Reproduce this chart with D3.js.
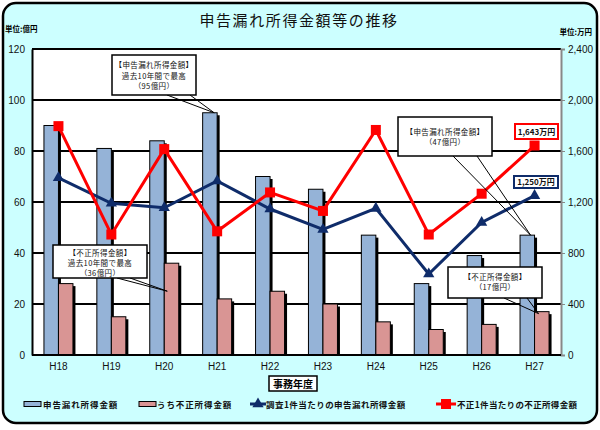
<!DOCTYPE html>
<html><head><meta charset="utf-8">
<script src="https://cdn.jsdelivr.net/npm/d3@7"></script>
<style>body{margin:0;background:#fff}svg{display:block}</style>
</head><body>
<svg id="c" width="600" height="430"></svg>
<script>
const categories = ["H18","H19","H20","H21","H22","H23","H24","H25","H26","H27"];
const shinkokuMore = [90,81,84,95,70,65,47,28,39,47];      // 申告漏れ所得金額 (億円)
const fusei = [28,15,36,22,25,20,13,10,12,17];              // うち不正所得金額 (億円)
const perCase = [1390,1190,1155,1365,1145,985,1150,635,1040,1250]; // 調査1件当たり (万円)
const perFusei = [1795,945,1615,970,1275,1130,1765,945,1265,1643]; // 不正1件当たり (万円)
const leftTicks = [0,20,40,60,80,100,120];
const rightTicks = [0,400,800,1200,1600,2000,2400];
const titleText = "申告漏れ所得金額等の推移";
const legendLabels = ["申告漏れ所得金額","うち不正所得金額","調査1件当たりの申告漏れ所得金額","不正1件当たりの不正所得金額"];

const svg = d3.select("#c");
const JP = "'Noto Sans CJK JP','Noto Sans',sans-serif";
const EN = "'Liberation Sans',Arial,sans-serif";
const NAVY = "#0f2c6a", RED = "#ff0000", BLUE = "#95b3d7", PINK = "#d99594";

const L = 32, R = 561, T = 49, B = 355;
const x = d3.scaleBand().domain(categories).range([L, R]);
const yL = d3.scaleLinear().domain([0, 120]).range([B, T]);
const yR = d3.scaleLinear().domain([0, 2400]).range([B, T]);

// chart background
svg.append("rect").attr("x",3).attr("y",3).attr("width",594).attr("height",420)
  .attr("rx",13).attr("fill","#ccffff").attr("stroke","#000").attr("stroke-width",2.5);

// title
svg.append("text").attr("x",299).attr("y",26).attr("text-anchor","middle")
  .attr("font-family",JP).attr("font-size",15).attr("letter-spacing",1.6).attr("fill","#111")
  .text(titleText);
svg.append("text").attr("x",5).attr("y",32).attr("font-family",JP).attr("font-size",7.5)
  .attr("font-weight","bold").text("単位:億円");
svg.append("text").attr("x",592).attr("y",35).attr("text-anchor","end").attr("font-family",JP)
  .attr("font-size",7.5).attr("font-weight","bold").text("単位:万円");

// plot area
svg.append("rect").attr("x",L).attr("y",T).attr("width",R-L).attr("height",B-T).attr("fill","#fff");
svg.append("g").selectAll("line").data(leftTicks.slice(1)).join("line")
  .attr("x1",L).attr("x2",R).attr("y1",d=>yL(d)).attr("y2",d=>yL(d))
  .attr("stroke","#000").attr("stroke-width",2);

// left axis
const gl = svg.append("g").attr("transform",`translate(${L},0)`)
  .call(d3.axisLeft(yL).tickValues(leftTicks).tickSize(0).tickPadding(7));
gl.select(".domain").attr("stroke","#000").attr("stroke-width",2);
gl.selectAll("text").attr("font-family",EN).attr("font-size",10).attr("fill","#111");

// right axis
const gr = svg.append("g").attr("transform",`translate(${R},0)`)
  .call(d3.axisRight(yR).tickValues(rightTicks).tickSize(4).tickPadding(3).tickFormat(d3.format(",")));
gr.select(".domain").attr("stroke","#888").attr("stroke-width",2);
gr.selectAll("line").attr("stroke","#888");
gr.selectAll("text").attr("font-family",EN).attr("font-size",10).attr("fill","#111");

// bars
const bw = 14.5;
function bars(vals, off, fill){
  const g = svg.append("g");
  g.selectAll(".s").data(vals).join("rect")
    .attr("x",(d,i)=>x(categories[i])+x.bandwidth()/2+off+2.5)
    .attr("y",d=>yL(d)+2.5).attr("width",bw).attr("height",d=>B-yL(d)-2.5).attr("fill","#000");
  g.selectAll(".b").data(vals).join("rect")
    .attr("x",(d,i)=>x(categories[i])+x.bandwidth()/2+off)
    .attr("y",d=>yL(d)).attr("width",bw).attr("height",d=>B-yL(d))
    .attr("fill",fill).attr("stroke","#000").attr("stroke-width",1);
}
bars(shinkokuMore, -bw, BLUE);
bars(fusei, 0, PINK);

// zero baseline
svg.append("line").attr("x1",L).attr("x2",R).attr("y1",B).attr("y2",B).attr("stroke","#000").attr("stroke-width",2);

// x labels
svg.append("g").selectAll("text").data(categories).join("text")
  .attr("x",d=>x(d)+x.bandwidth()/2).attr("y",370).attr("text-anchor","middle")
  .attr("font-family",EN).attr("font-size",10).attr("fill","#111").text(d=>d);

// lines
const cx = (d,i)=>x(categories[i])+x.bandwidth()/2;
const lineGen = d3.line().x(cx).y(d=>yR(d));
svg.append("path").datum(perCase).attr("d",lineGen).attr("fill","none").attr("stroke",NAVY).attr("stroke-width",3);
svg.append("path").datum(perFusei).attr("d",lineGen).attr("fill","none").attr("stroke",RED).attr("stroke-width",3);
const tri = d3.symbol().type(d3.symbolTriangle).size(55);
svg.append("g").selectAll("path").data(perCase).join("path")
  .attr("transform",(d,i)=>`translate(${cx(d,i)},${yR(d)})`).attr("d",tri).attr("fill",NAVY);
svg.append("g").selectAll("rect").data(perFusei).join("rect")
  .attr("x",(d,i)=>cx(d,i)-5).attr("y",d=>yR(d)-5).attr("width",10).attr("height",10).attr("fill",RED);

// callouts
function callout(bx,by,bw2,bh,lines,p1,p2,tip,lineYs){
  const g = svg.append("g");
  g.append("line").attr("x1",p1).attr("y1",by+bh).attr("x2",tip[0]).attr("y2",tip[1]).attr("stroke","#000").attr("stroke-width",1);
  g.append("line").attr("x1",p2).attr("y1",by+bh).attr("x2",tip[0]).attr("y2",tip[1]).attr("stroke","#000").attr("stroke-width",1);
  g.append("rect").attr("x",bx).attr("y",by).attr("width",bw2).attr("height",bh)
    .attr("fill","#fff").attr("stroke","#000").attr("stroke-width",1.5);
  lines.forEach((t,k)=>g.append("text").attr("x",bx+bw2/2).attr("y",lineYs[k]).attr("text-anchor","middle")
    .attr("font-family",JP).attr("font-size",7.5).attr("letter-spacing",0.4).attr("fill","#111").text(t));
}
callout(112,55,84,40,["【申告漏れ所得金額】","過去10年間で最高","（95億円）"],167,190,
  [x("H21")+x.bandwidth()/2-3, yL(shinkokuMore[3])],[68,79,89]);
callout(53,245,94,33,["【不正所得金額】","過去10年間で最高","（36億円）"],117,130,
  [x("H20")+x.bandwidth()/2+3, yL(fusei[2])+28],[256,266,276]);
callout(398,117,94,39,["【申告漏れ所得金額】","（47億円）"],453,477,
  [x("H27")+x.bandwidth()/2-4, yL(shinkokuMore[9])],[135,145]);
callout(448,267,94,31,["【不正所得金額】","（17億円）"],504,527,
  [x("H27")+x.bandwidth()/2+4, yL(fusei[9])+2],[280,290]);

// value tags
function tag(bx,by,w,h,color,t){
  svg.append("rect").attr("x",bx).attr("y",by).attr("width",w).attr("height",h)
    .attr("fill","#fff").attr("stroke",color).attr("stroke-width",2);
  svg.append("text").attr("x",bx+w/2).attr("y",by+h/2+3).attr("text-anchor","middle")
    .attr("font-family",JP).attr("font-size",8).attr("font-weight","bold").attr("fill","#111").text(t);
}
tag(515,124,43,15,RED,d3.format(",")(perFusei[9])+"万円");
tag(514,176,44,12,NAVY,d3.format(",")(perCase[9])+"万円");

// x axis title
svg.append("rect").attr("x",269).attr("y",376).attr("width",48).attr("height",15)
  .attr("fill","#fff").attr("stroke","#000").attr("stroke-width",1.5);
svg.append("text").attr("x",293).attr("y",387.5).attr("text-anchor","middle").attr("font-family",JP)
  .attr("font-size",10).attr("font-weight","bold").text("事務年度");

// legend
const ly = 404;
const lg = svg.append("g").attr("font-family",JP).attr("font-size",8.5).attr("font-weight","bold").attr("fill","#111");
lg.append("rect").attr("x",24).attr("y",ly-2.5).attr("width",17).attr("height",5).attr("fill",BLUE).attr("stroke","#000");
lg.append("text").attr("x",43).attr("y",ly+3.5).attr("letter-spacing",0.9).text(legendLabels[0]);
lg.append("rect").attr("x",139).attr("y",ly-2.5).attr("width",17).attr("height",5).attr("fill",PINK).attr("stroke","#000");
lg.append("text").attr("x",157).attr("y",ly+3.5).attr("letter-spacing",0.9).text(legendLabels[1]);
lg.append("line").attr("x1",250).attr("x2",266).attr("y1",ly).attr("y2",ly).attr("stroke",NAVY).attr("stroke-width",3);
lg.append("path").attr("transform",`translate(258,${ly})`).attr("d",tri).attr("fill",NAVY);
lg.append("text").attr("x",266).attr("y",ly+3.5).attr("letter-spacing",0.45).text(legendLabels[2]);
lg.append("line").attr("x1",436).attr("x2",456).attr("y1",ly).attr("y2",ly).attr("stroke",RED).attr("stroke-width",3);
lg.append("rect").attr("x",441).attr("y",ly-5).attr("width",10).attr("height",10).attr("fill",RED);
lg.append("text").attr("x",457).attr("y",ly+3.5).attr("letter-spacing",0.35).text(legendLabels[3]);
</script>
</body></html>
